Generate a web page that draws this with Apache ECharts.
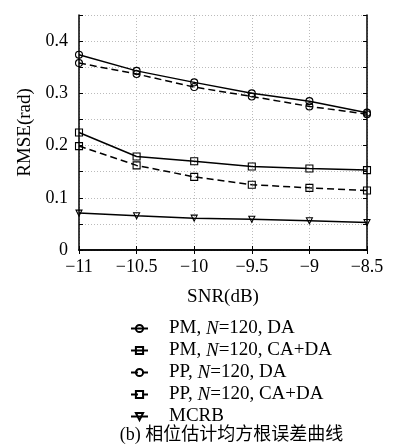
<!DOCTYPE html>
<html><head><meta charset="utf-8">
<script src="https://cdn.jsdelivr.net/npm/echarts@6/dist/echarts.min.js"></script>
<style>html,body{margin:0;padding:0;background:#fff}#c{width:393px;height:448px}</style>
</head><body><div id="c"></div>
<script>
const snr = [-11, -10.5, -10, -9.5, -9, -8.5];
const pmDA   = [0.374, 0.343, 0.321, 0.300, 0.285, 0.263];
const pmCADA = [0.225, 0.179, 0.170, 0.160, 0.156, 0.153];
const ppDA   = [0.358, 0.337, 0.312, 0.294, 0.275, 0.260];
const ppCADA = [0.199, 0.162, 0.140, 0.125, 0.119, 0.114];
const mcrb   = [0.0707, 0.0655, 0.061, 0.059, 0.056, 0.0526];
const names = ['PM, {i|N}=120, DA', 'PM, {i|N}=120, CA+DA', 'PP, {i|N}=120, DA', 'PP, {i|N}=120, CA+DA', 'MCRB'];
const xTicks = [-11, -10.5, -10, -9.5, -9, -8.5];
const yLabels = [0, 0.1, 0.2, 0.3, 0.4];

const serif = 'Liberation Serif';
function pairs(v){ return snr.map((x,i)=>[x, v[i]]); }
function mk(name, data, symbol, dashed, size, rot){
  return {
    name, type:'line', data:pairs(data), symbol, symbolSize:size, symbolRotate:rot||0,
    lineStyle:{color:'#000', width:1.5, type: dashed ? [7,4] : 'solid'},
    itemStyle:{color:'rgba(255,255,255,0)', borderColor:'#000', borderWidth:1.1},
    emphasis:{disabled:true}, animation:false, z:3
  };
}
const fmtMinus = v => (v<0?'\u2212':'') + Math.abs(v);
const chart = echarts.init(document.getElementById('c'));
chart.setOption({
  animation:false,
  grid:{left:79, right:26, top:15, bottom:198},
  legend:{
    orient:'vertical', left:125, top:314, itemWidth:17, itemHeight:9, itemGap:3,
    selectedMode:false,
    data:names,
    formatter: n => '{s|}' + n,
    textStyle:{fontFamily:serif, fontSize:19, lineHeight:19, color:'#000',
      rich:{
        s:{width:16},
        i:{fontFamily:serif, fontStyle:'italic', fontSize:19, lineHeight:19, color:'#000'}}}
  },
  xAxis:[{
    type:'value', min:-11, max:-8.5, interval:0.5,
    name:'SNR(dB)', nameLocation:'middle', nameGap:38,
    nameTextStyle:{fontFamily:serif, fontSize:19, color:'#000'},
    axisLine:{lineStyle:{color:'#000', width:1.5}},
    axisTick:{inside:true, length:4, lineStyle:{color:'#000'}},
    axisLabel:{fontFamily:serif, fontSize:18, color:'#000', margin:8, formatter:fmtMinus},
    splitLine:{show:true, lineStyle:{color:'#bbb', type:[1,2], width:1}}
  },{
    type:'value', position:'top', min:-11, max:-8.5, interval:0.5,
    axisLine:{show:true, lineStyle:{color:'#000', width:1.5}},
    axisTick:{inside:true, length:4, lineStyle:{color:'#000'}},
    axisLabel:{show:false}, splitLine:{show:false}
  }],
  yAxis:[{
    type:'value', min:0, max:0.45, interval:0.05,
    name:'RMSE(rad)', nameLocation:'middle', nameGap:39, nameRotate:90,
    nameTextStyle:{fontFamily:serif, fontSize:19, color:'#000'},
    axisLine:{show:true, lineStyle:{color:'#000', width:1.5}},
    axisTick:{inside:true, length:4, lineStyle:{color:'#000'}},
    axisLabel:{fontFamily:serif, fontSize:18, color:'#000', margin:11,
      formatter: v => { const r = Math.round(v*100)/100; return yLabels.some(t=>Math.abs(t-r)<1e-6) ? String(r) : ''; }},
    splitLine:{show:true, lineStyle:{color:'#bbb', type:[1,2], width:1}}
  },{
    type:'value', position:'right', min:0, max:0.45, interval:0.05,
    axisLine:{show:true, lineStyle:{color:'#000', width:1.5}},
    axisTick:{inside:true, length:4, lineStyle:{color:'#000'}},
    axisLabel:{show:false}, splitLine:{show:false}
  }],
  series:[
    mk(names[0], pmDA, 'circle', false, 7),
    mk(names[1], pmCADA, 'rect', false, 7),
    mk(names[2], ppDA, 'circle', true, 7),
    mk(names[3], ppCADA, 'rect', true, 7),
    mk(names[4], mcrb, 'triangle', false, 6, 180)
  ],
  graphic:[{
    type:'text', x:231.5, y:435,
    style:{text:'(b) 相位估计均方根误差曲线', font:'18px "Liberation Serif", "Noto Sans CJK SC"', fill:'#000', align:'center', verticalAlign:'middle'}
  }]
});
</script></body></html>
